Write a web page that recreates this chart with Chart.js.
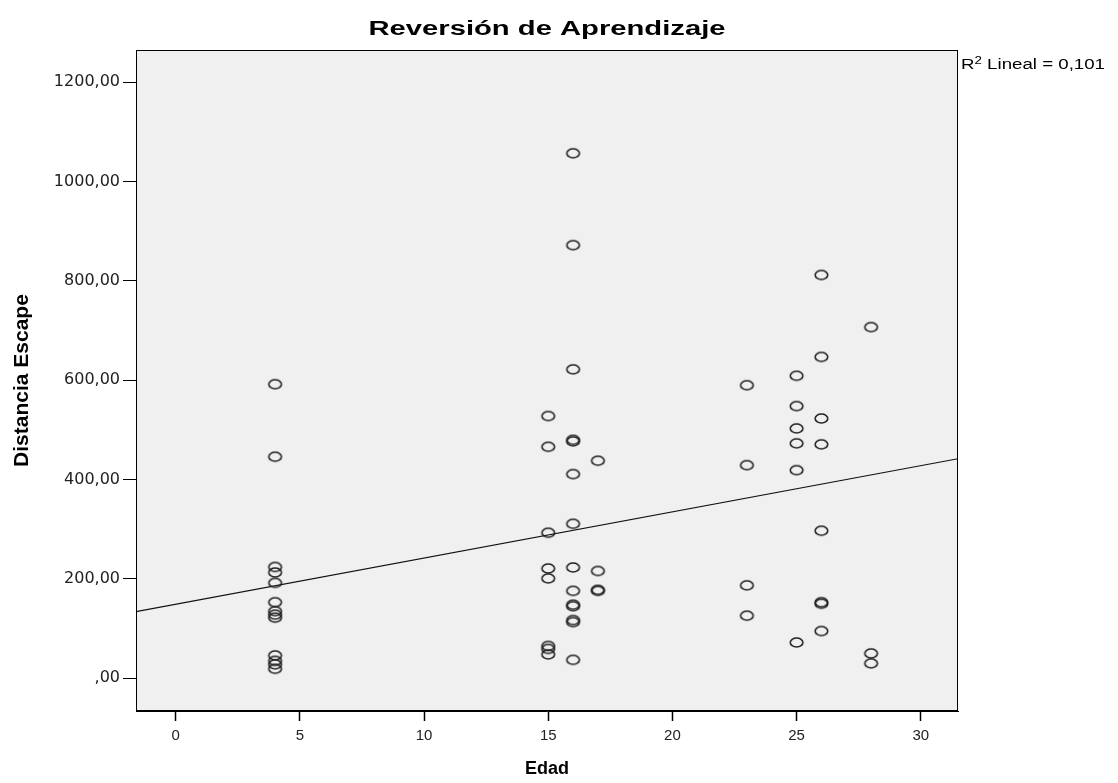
<!DOCTYPE html>
<html>
<head>
<meta charset="utf-8">
<title>Reversión de Aprendizaje</title>
<script src="https://cdn.jsdelivr.net/npm/chart.js@4.4.1/dist/chart.umd.min.js"></script>
<style>
  html, body { margin: 0; padding: 0; background: #fff; }
</style>
</head>
<body>
<canvas id="dispersion" width="1118" height="783"></canvas>

<script>
  // edades medidas y distancia de escape de cada sujeto, por grupo de edad
  const edades = [4, 15, 16, 17, 23, 25, 26, 28];
  const distEdad4 = [592, 446, 224, 213, 192, 153, 135, 128, 122, 46, 35, 28, 19];
  const distEdad15 = [528, 466, 293, 221, 201, 65, 59, 48];
  const distEdad16 = [1057, 872, 622, 480, 477, 411, 311, 223, 176, 148, 145, 117, 113, 37];
  const distEdad17 = [438, 216, 178, 176];
  const distEdad23 = [590, 429, 187, 126];
  const distEdad25 = [609, 548, 503, 473, 419, 72];
  const distEdad26 = [812, 647, 523, 471, 297, 153, 150, 95];
  const distEdad28 = [707, 50, 30];
  const distPorEdad = [distEdad4, distEdad15, distEdad16, distEdad17, distEdad23, distEdad25, distEdad26, distEdad28];

  const xTicks = [0, 5, 10, 15, 20, 25, 30];
  const yTicks = [0, 200, 400, 600, 800, 1000, 1200];

  // recta de ajuste lineal
  const ajusteIntercepto = 149;
  const ajustePendiente = 9.3;
  const r2Texto = '0,101';

  const xMin = -1.6, xMax = 31.5;
  const yMin = -66, yMax = 1265;

  let puntos = [];
  edades.forEach(function(edad, i) {
    distPorEdad[i].forEach(function(d) {
      puntos.push({x: edad, y: d});
    });
  });

  const recta = [
    {x: xMin, y: ajusteIntercepto + ajustePendiente * xMin},
    {x: xMax, y: ajusteIntercepto + ajustePendiente * xMax},
  ];

  // marcador: elipse hueca
  function crearMarcador() {
    const c = document.createElement('canvas');
    c.width = 17;
    c.height = 13;
    const g = c.getContext('2d');
    g.strokeStyle = '#222';
    g.lineWidth = 1.6;
    g.beginPath();
    g.ellipse(8.5, 6.5, 6.3, 4.5, 0, 0, Math.PI * 2);
    g.stroke();
    return c;
  }

  function textoEstirado(ctx, text, font, cx, cy, ancho) {
    ctx.save();
    ctx.font = font;
    const w = ctx.measureText(text).width;
    ctx.translate(cx, cy);
    ctx.scale(ancho / w, 1);
    ctx.textAlign = 'center';
    ctx.textBaseline = 'middle';
    ctx.fillStyle = '#000';
    ctx.fillText(text, 0, 0);
    ctx.restore();
  }

  const marcoPlugin = {
    id: 'marco',
    beforeDraw(chart) {
      const {ctx, chartArea: a} = chart;
      ctx.save();
      ctx.fillStyle = '#f0f0f0';
      ctx.fillRect(a.left, a.top, a.right - a.left, a.bottom - a.top);
      ctx.restore();
    },
    afterDraw(chart) {
      const {ctx, chartArea: a} = chart;
      ctx.save();
      ctx.strokeStyle = '#000';
      ctx.lineWidth = 1;
      ctx.strokeRect(a.left + 0.5, a.top + 0.5, a.right - a.left - 1, a.bottom - a.top - 1);
      ctx.restore();

      textoEstirado(ctx, 'Reversión de Aprendizaje', 'bold 20px "Liberation Sans"', (a.left + a.right) / 2, 29, 357);

      // R² Lineal
      ctx.save();
      const fGrande = '14px "Liberation Sans"', fChica = '10px "Liberation Sans"';
      const resto = ' Lineal = ' + r2Texto;
      ctx.font = fGrande;
      const wR = ctx.measureText('R').width;
      const wResto = ctx.measureText(resto).width;
      ctx.font = fChica;
      const w2 = ctx.measureText('2').width;
      const escala = 144 / (wR + w2 + wResto);
      ctx.translate(a.right + 3, 69);
      ctx.scale(escala, 1);
      ctx.fillStyle = '#000';
      ctx.textBaseline = 'alphabetic';
      ctx.font = fGrande;
      ctx.fillText('R', 0, 0);
      ctx.font = fChica;
      ctx.fillText('2', wR, -5);
      ctx.font = fGrande;
      ctx.fillText(resto, wR + w2, 0);
      ctx.restore();
    }
  };

  const config = {
    type: 'scatter',
    data: {
      datasets: [
        {
          label: 'Distancia Escape',
          data: puntos,
          pointStyle: crearMarcador(),
          pointRadius: 6,
        },
        {
          label: 'Lineal',
          data: recta,
          showLine: true,
          borderColor: '#111',
          borderWidth: 1.2,
          pointRadius: 0,
        }
      ]
    },
    options: {
      responsive: false,
      devicePixelRatio: 1,
      animation: false,
      events: [],
      layout: {
        padding: {top: 50, right: 160, left: 0, bottom: 0}
      },
      plugins: {
        legend: {display: false},
        tooltip: {enabled: false},
        title: {display: false},
      },
      scales: {
        x: {
          type: 'linear',
          min: xMin,
          max: xMax,
          afterBuildTicks: function(scale) {
            scale.ticks = xTicks.map(function(v) { return {value: v}; });
          },
          afterFit: function(scale) { scale.height = 72; },
          grid: {
            drawOnChartArea: false,
            drawTicks: true,
            tickLength: 10,
            tickWidth: 1.5,
            tickColor: '#000',
          },
          border: {display: true, color: '#000', width: 1},
          ticks: {
            padding: 6,
            color: '#222',
            font: {family: '"Liberation Sans"', size: 15},
            callback: function(v) { return String(v); },
          },
          title: {
            display: true,
            text: 'Edad',
            color: '#000',
            font: {family: '"Liberation Sans"', size: 18, weight: 'bold'},
            padding: {bottom: 3},
          }
        },
        y: {
          type: 'linear',
          min: yMin,
          max: yMax,
          afterBuildTicks: function(scale) {
            scale.ticks = yTicks.map(function(v) { return {value: v}; });
          },
          afterFit: function(scale) { scale.width = 136; },
          grid: {
            drawOnChartArea: false,
            drawTicks: true,
            tickLength: 13,
            tickColor: '#000',
          },
          border: {display: true, color: '#000', width: 1},
          ticks: {
            padding: 3,
            color: '#222',
            font: {family: '"DejaVu Sans"', size: 16},
            callback: function(v) { return v === 0 ? ',00' : v + ',00'; },
          },
          title: {
            display: true,
            text: 'Distancia Escape',
            color: '#000',
            font: {family: '"Liberation Sans"', size: 21, weight: 'bold'},
            padding: {top: 10},
          }
        }
      }
    },
    plugins: [marcoPlugin]
  };

  const grafico = new Chart(document.getElementById('dispersion'), config);
</script>
</body>
</html>
